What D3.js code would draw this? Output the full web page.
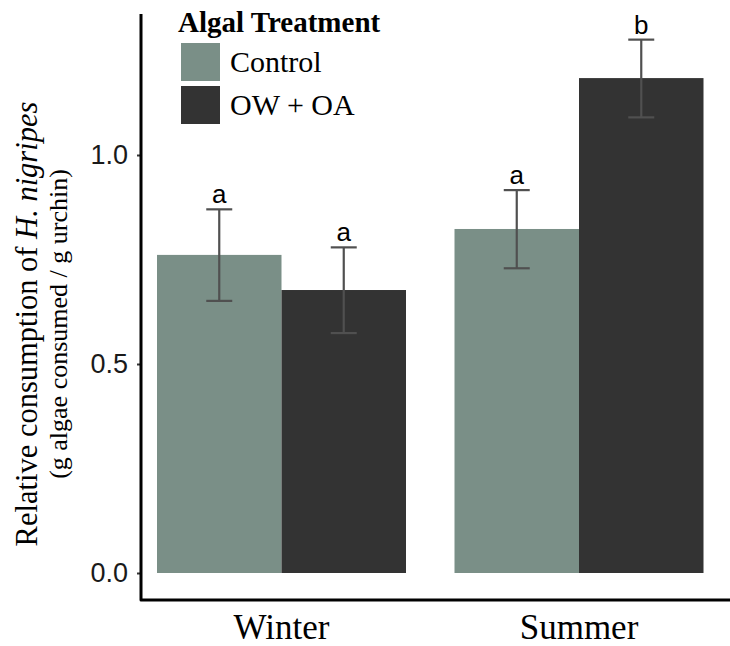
<!DOCTYPE html>
<html>
<head>
<meta charset="utf-8">
<script src="https://cdn.jsdelivr.net/npm/d3@7"></script>
<style>
  html, body { margin: 0; padding: 0; background: #fff; }
  svg { display: block; }
</style>
</head>
<body>
<svg id="chart" width="730" height="646"></svg>
<script>
// Seasons on the x axis and the two algal treatments within each season
const seasons = ["Winter", "Summer"];
const treatments = ["Control", "OW + OA"];

// Mean relative consumption per treatment, one array per season
const winterMeans = [0.761, 0.677];
const summerMeans = [0.823, 1.184];

// Error bar bounds (lower, upper)
const winterLower = [0.651, 0.574];
const winterUpper = [0.870, 0.779];
const summerLower = [0.729, 1.090];
const summerUpper = [0.916, 1.276];

// Significance letters
const winterLetters = ["a", "a"];
const summerLetters = ["a", "b"];

const yTicks = [0.0, 0.5, 1.0];
const fillColors = ["#7a8f87", "#333333"];

const rows = [];
seasons.forEach((s, si) => {
  const means = si === 0 ? winterMeans : summerMeans;
  const lo = si === 0 ? winterLower : summerLower;
  const hi = si === 0 ? winterUpper : summerUpper;
  const lt = si === 0 ? winterLetters : summerLetters;
  treatments.forEach((t, ti) => {
    rows.push({ season: s, treatment: t, mean: means[ti], lo: lo[ti], hi: hi[ti], letter: lt[ti] });
  });
});

const svg = d3.select("#chart");
const serif = "'Liberation Serif', 'Times New Roman', serif";
const sans = "'Liberation Sans', Arial, Helvetica, sans-serif";

const axisX = 141, axisY = 600, axisTop = 14;

const y = d3.scaleLinear().domain([0, 1]).range([573, 155]);

const pIn = 48.5 / 297.5;
const x = d3.scaleBand().domain(seasons).range([132.75, 727.75])
  .paddingInner(pIn).paddingOuter(pIn / 2);
const xInner = d3.scaleBand().domain(treatments).range([0, x.bandwidth()]);
const color = d3.scaleOrdinal().domain(treatments).range(fillColors);

// Bars
svg.append("g").selectAll("rect").data(rows).join("rect")
  .attr("x", d => x(d.season) + xInner(d.treatment))
  .attr("y", d => y(d.mean))
  .attr("width", xInner.bandwidth())
  .attr("height", d => y(0) - y(d.mean))
  .attr("fill", d => color(d.treatment));

// Error bars
const capHalf = 13;
const eb = svg.append("g").attr("stroke", "#505050").attr("stroke-width", 2.2);
rows.forEach(d => {
  const cx = x(d.season) + xInner(d.treatment) + xInner.bandwidth() / 2;
  eb.append("line").attr("x1", cx).attr("x2", cx).attr("y1", y(d.lo)).attr("y2", y(d.hi));
  eb.append("line").attr("x1", cx - capHalf).attr("x2", cx + capHalf).attr("y1", y(d.hi)).attr("y2", y(d.hi));
  eb.append("line").attr("x1", cx - capHalf).attr("x2", cx + capHalf).attr("y1", y(d.lo)).attr("y2", y(d.lo));
});

// Significance letters
svg.append("g").selectAll("text").data(rows).join("text")
  .attr("x", d => x(d.season) + xInner(d.treatment) + xInner.bandwidth() / 2)
  .attr("y", d => y(d.hi) - 6)
  .attr("text-anchor", "middle")
  .attr("font-family", sans).attr("font-size", 26).attr("fill", "#000")
  .text(d => d.letter);

// Y axis
const yAxis = d3.axisLeft(y).tickValues(yTicks).tickFormat(d3.format(".1f")).tickSize(4).tickPadding(9);
const gy = svg.append("g").attr("transform", `translate(${axisX},0)`).call(yAxis);
gy.select(".domain").remove();
gy.selectAll(".tick line").attr("stroke", "#333").attr("stroke-width", 2);
gy.selectAll(".tick text").attr("font-family", sans).attr("font-size", 27).attr("fill", "#1a1a1a");

// X axis labels
const xAxis = d3.axisBottom(x).tickSize(0).tickPadding(0);
const gx = svg.append("g").attr("transform", `translate(0,${axisY})`).call(xAxis);
gx.select(".domain").remove();
gx.selectAll(".tick text").attr("font-family", serif).attr("font-size", 35).attr("fill", "#000")
  .attr("y", 39).attr("dy", "0");

// Axis lines
svg.append("path")
  .attr("d", `M${axisX},${axisTop}V${axisY}H730`)
  .attr("fill", "none").attr("stroke", "#000").attr("stroke-width", 3)
  .attr("stroke-linejoin", "round");

// Y axis title (two lines)
const yt1 = svg.append("text")
  .attr("transform", "translate(37,324) rotate(-90)")
  .attr("text-anchor", "middle").attr("font-family", serif).attr("font-size", 30.5).attr("fill", "#000");
yt1.append("tspan").text("Relative consumption of ");
yt1.append("tspan").attr("font-style", "italic").text("H. nigripes");

svg.append("text")
  .attr("transform", "translate(67,324) rotate(-90)")
  .attr("text-anchor", "middle").attr("font-family", serif).attr("font-size", 26).attr("fill", "#000")
  .text("(g algae consumed / g urchin)");

// Legend
const legend = svg.append("g");
legend.append("text").attr("x", 178).attr("y", 32)
  .attr("font-family", serif).attr("font-weight", "bold").attr("font-size", 29).attr("fill", "#000")
  .text("Algal Treatment");
treatments.forEach((t, i) => {
  const top = 43 + i * 43;
  legend.append("rect").attr("x", 181).attr("y", top).attr("width", 39).attr("height", 38)
    .attr("fill", color(t));
  legend.append("text").attr("x", 230).attr("y", top + 29)
    .attr("font-family", serif).attr("font-size", 30).attr("fill", "#000").text(t);
});
</script>
</body>
</html>
